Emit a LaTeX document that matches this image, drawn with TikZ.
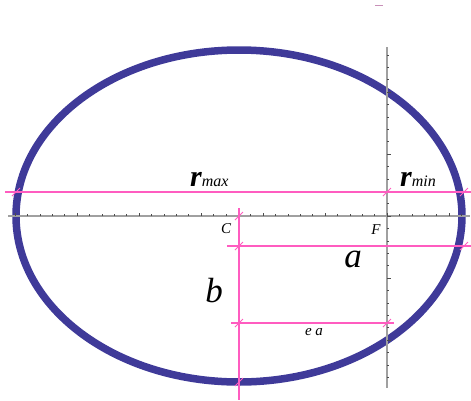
\documentclass[tikz,border=0pt]{standalone}
\usepackage{fontspec}
\setmainfont{Liberation Serif}
\definecolor{orbit}{HTML}{3F3A99}
\definecolor{guide}{HTML}{FF5CC0}
\definecolor{axisgray}{HTML}{A0A0A0}
\definecolor{stray}{HTML}{C890B8}

\begin{document}
\begin{tikzpicture}[x=1pt,y=-1pt,
  hash/.style={guide,line width=1pt},
  guideline/.style={guide,line width=1.3pt},
  biglbl/.style={font=\fontsize{35}{35}\selectfont\itshape,inner sep=0pt,anchor=base},
  smalllbl/.style={font=\fontsize{15}{15}\selectfont\itshape,inner sep=0pt,anchor=base}]
  \useasboundingbox (0,0) rectangle (471,400);

  % centre and focus
  \coordinate (C) at (239,216);
  \coordinate (F) at (387,216);

  % orbit
  \draw[orbit,line width=7.5pt] (C) ellipse [x radius=223,y radius=166];

  % axes through the focus
  \draw[axisgray,line width=1.6pt] (8,216) -- (470,216);
  \draw[axisgray,line width=1.6pt] (387,47) -- (387,388);
  \foreach \k in {-30,...,6}{
    \pgfmathsetmacro\tl{ifthenelse(mod(\k,5)==0,3.5,2)}
    \draw[black!70,line width=0.6pt] ({387+12.4*\k},216) -- ++(0,-\tl);
  }
  \foreach \k in {-13,...,13}{
    \pgfmathsetmacro\tl{ifthenelse(mod(\k,5)==0,3.5,2)}
    \draw[black!70,line width=0.6pt] (387,{216+12.4*\k}) -- ++(\tl,0);
  }

  % r_max / r_min line
  \coordinate (rl) at (5,192);
  \coordinate (rr) at (471,192);
  \draw[guideline] (rl) -- (rr);
  \foreach \x in {16,387,464}
    \draw[hash] (\x,192) ++(-4,4) -- ++(8,-8);

  % a line
  \coordinate (al) at (227,246);
  \coordinate (ar) at (471,246);
  \draw[guideline] (al) -- (ar);
  \foreach \x in {239,464}
    \draw[hash] (\x,246) ++(-4,4) -- ++(8,-8);

  % e a line
  \coordinate (el) at (231,323);
  \coordinate (er) at (394,323);
  \draw[guideline] (el) -- (er);
  \foreach \x in {239,387}
    \draw[hash] (\x,323) ++(-4,4) -- ++(8,-8);

  % b line
  \coordinate (bt) at (239,208);
  \coordinate (bb) at (239,400);
  \draw[guideline] (bt) -- (bb);
  \foreach \y in {216,382}
    \draw[hash] (239,\y) ++(-4,4) -- ++(8,-8);

  \draw[stray,line width=0.8pt] (375,5) -- (383,5);

  % labels
  \node[inner sep=0pt,anchor=base west] (rmax) at (190,186)
    {\fontsize{30}{30}\selectfont\bfseries\itshape r\fontsize{16}{16}\selectfont\mdseries max};
  \node[inner sep=0pt,anchor=base west] (rmin) at (400,186)
    {\fontsize{30}{30}\selectfont\bfseries\itshape r\fontsize{16}{16}\selectfont\mdseries min};
  \node[smalllbl] (lblC) at (226,233) {C};
  \node[smalllbl] (lblF) at (376,234) {F};
  \node[biglbl] (lbla) at (353,267) {a};
  \node[biglbl] (lblb) at (214,302) {b};
  \node[smalllbl] (lblea) at (314,335) {e a};
\end{tikzpicture}
\end{document}
